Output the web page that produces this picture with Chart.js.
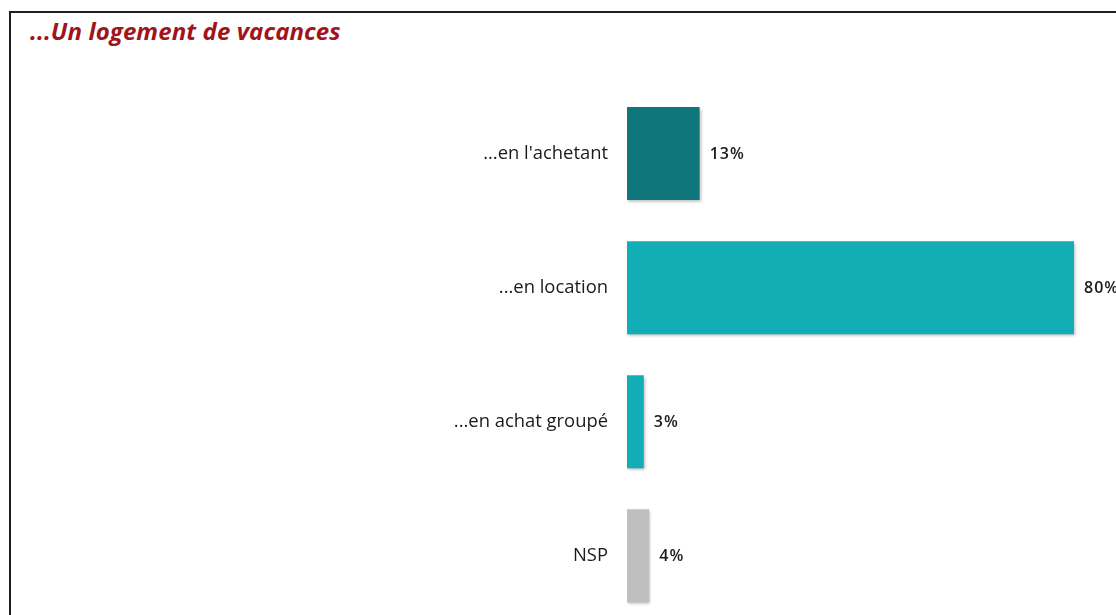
<!DOCTYPE html>
<html>
<head>
<meta charset="utf-8">
<script src="https://cdn.jsdelivr.net/npm/chart.js@4.4.0/dist/chart.umd.min.js"></script>
<style>
  html, body { margin: 0; padding: 0; width: 1116px; height: 615px; overflow: hidden; background: #fff; }
  #frame { position: absolute; left: 9px; top: 11px; width: 1200px; height: 700px; border: 2px solid #1e1e1e; box-sizing: border-box; }
  #title { position: absolute; left: 30px; top: 14px; font-family: "Open Sans", Lato, sans-serif; font-weight: bold; font-style: italic; font-size: 24px; letter-spacing: 0.1px; color: #a0141a; }
  #wrap { position: absolute; left: 0; top: 0; width: 1200px; height: 645px; }
</style>
</head>
<body>
<div id="frame"></div>
<div id="title">...Un logement de vacances</div>
<div id="wrap"><canvas id="c" width="1200" height="645"></canvas></div>
<script>
const categories = ["...en l'achetant", "...en location", "...en achat groupé", "NSP"];
const values = [13, 80, 3, 4];
const barColors = ["#0f777b", "#13aeb5", "#13aeb5", "#bfbfbf"];

const valueLabels = {
  id: 'valueLabels',
  afterDatasetsDraw(chart) {
    const ctx = chart.ctx;
    const meta = chart.getDatasetMeta(0);
    ctx.save();
    ctx.font = '600 16px "Open Sans", Lato, sans-serif';
    try { ctx.letterSpacing = '1px'; } catch (e) {}
    ctx.fillStyle = '#1a1a1a';
    ctx.textAlign = 'left';
    ctx.textBaseline = 'middle';
    meta.data.forEach((bar, i) => {
      ctx.fillText(values[i] + '%', bar.x + 10, bar.y + 1);
    });
    ctx.restore();
  }
};
const barShadow = {
  id: 'barShadow',
  beforeDatasetsDraw(chart) {
    const ctx = chart.ctx;
    ctx.save();
    ctx.shadowColor = 'rgba(0,0,0,0.28)';
    ctx.shadowBlur = 3;
    ctx.shadowOffsetX = 1;
    ctx.shadowOffsetY = 2;
  },
  afterDatasetsDraw(chart) {
    chart.ctx.restore();
  }
};

new Chart(document.getElementById('c'), {
  type: 'bar',
  data: {
    labels: categories,
    datasets: [{
      data: values,
      backgroundColor: barColors,
      borderWidth: 0,
      categoryPercentage: 1,
      barPercentage: 0.694
    }]
  },
  options: {
    indexAxis: 'y',
    responsive: false,
    animation: false,
    layout: { padding: { left: 0, top: 86.5, bottom: 0.5, right: 14.25 } },
    plugins: { legend: { display: false }, tooltip: { enabled: false } },
    scales: {
      x: { display: false, min: 0, max: 100 },
      y: {
        grid: { display: false },
        border: { display: false },
        ticks: {
          color: '#1a1a1a',
          padding: 11,
          font: { family: '"Open Sans", Lato, sans-serif', size: 18.4 }
        },
        afterFit(s) { s.width = 627; }
      }
    }
  },
  plugins: [barShadow, valueLabels]
});
</script>
</body>
</html>
